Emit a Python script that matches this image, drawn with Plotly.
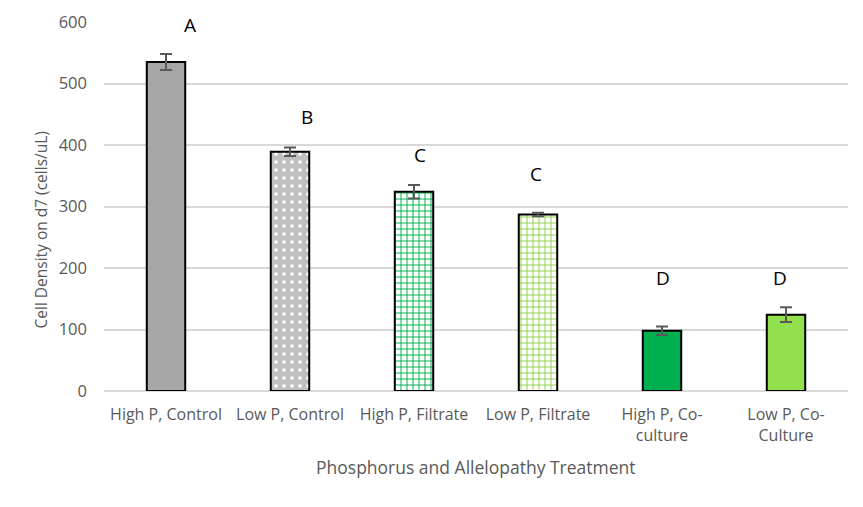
import plotly.graph_objects as go

categories = ["High P, Control", "Low P, Control", "High P, Filtrate",
              "Low P, Filtrate", "High P, Co-<br>culture", "Low P, Co-<br>Culture"]
values = [535, 389, 324, 287, 98, 124]
errors = [13, 7, 11, 3, 7, 12]
letters = ["A", "B", "C", "C", "D", "D"]
letter_y = [595, 445, 384, 353, 184, 184]
letter_xshift = [24, 17, 6, -2, 1, -6]

fills = ["#a6a6a6", "#c0c0c0", "#ffffff", "#ffffff", "#00b050", "#92e04d"]
shapes = ["", ".", "+", "+", "", ""]
fgcolors = ["#a6a6a6", "#ffffff", "#00b050", "#92d050", "#00b050", "#92e04d"]
sizes = [6, 8, 6, 6, 6, 6]
solidities = [0.2, 0.16, 0.3, 0.3, 0.2, 0.2]

fig = go.Figure()
for i, c in enumerate(categories):
    marker = dict(color=fills[i], line=dict(color="black", width=2))
    if shapes[i]:
        marker["pattern"] = dict(shape=shapes[i], fgcolor=fgcolors[i], bgcolor=fills[i],
                                 size=sizes[i], solidity=solidities[i], fillmode="replace")
    fig.add_trace(go.Bar(
        x=[c], y=[values[i]], marker=marker,
        error_y=dict(type="data", array=[errors[i]], color="#595959", thickness=2, width=6),
        width=0.31,
    ))

for c, l, ly, xs in zip(categories, letters, letter_y, letter_xshift):
    fig.add_annotation(x=c, y=ly, text=l, showarrow=False, xshift=xs,
                       font=dict(size=19, color="black", family="Open Sans"))

fig.add_annotation(x=0.5, xref="paper", y=0, yref="paper", yshift=-76, yanchor="middle",
                   text="Phosphorus and Allelopathy Treatment", showarrow=False,
                   font=dict(size=17.5, color="#595959", family="Open Sans"))
fig.add_annotation(x=0, xref="paper", y=0.5, yref="paper", xshift=-64, yshift=-24,
                   xanchor="center", yanchor="middle", textangle=-90,
                   text="Cell Density on d7 (cells/uL)", showarrow=False,
                   font=dict(size=15.5, color="#595959", family="Open Sans"))

fig.update_layout(
    width=855, height=499,
    margin=dict(l=96, r=15, t=14, b=116),
    paper_bgcolor="white", plot_bgcolor="white",
    font=dict(family="Open Sans", size=15, color="#595959"),
    showlegend=False, barmode="overlay",
    xaxis=dict(automargin=False,
               categoryorder="array", categoryarray=categories,
               showline=False, ticks="", tickfont=dict(size=16, color="#595959"),
               ticklabelstandoff=12),
    yaxis=dict(automargin=False,
               range=[0, 600], dtick=100, showgrid=True, gridcolor="#d9d9d9", gridwidth=1.5,
               zeroline=True, zerolinecolor="#d9d9d9", zerolinewidth=1.5,
               tickfont=dict(size=16.5, color="#595959"), ticklabelstandoff=16),
)

fig.write_html("out.html")
